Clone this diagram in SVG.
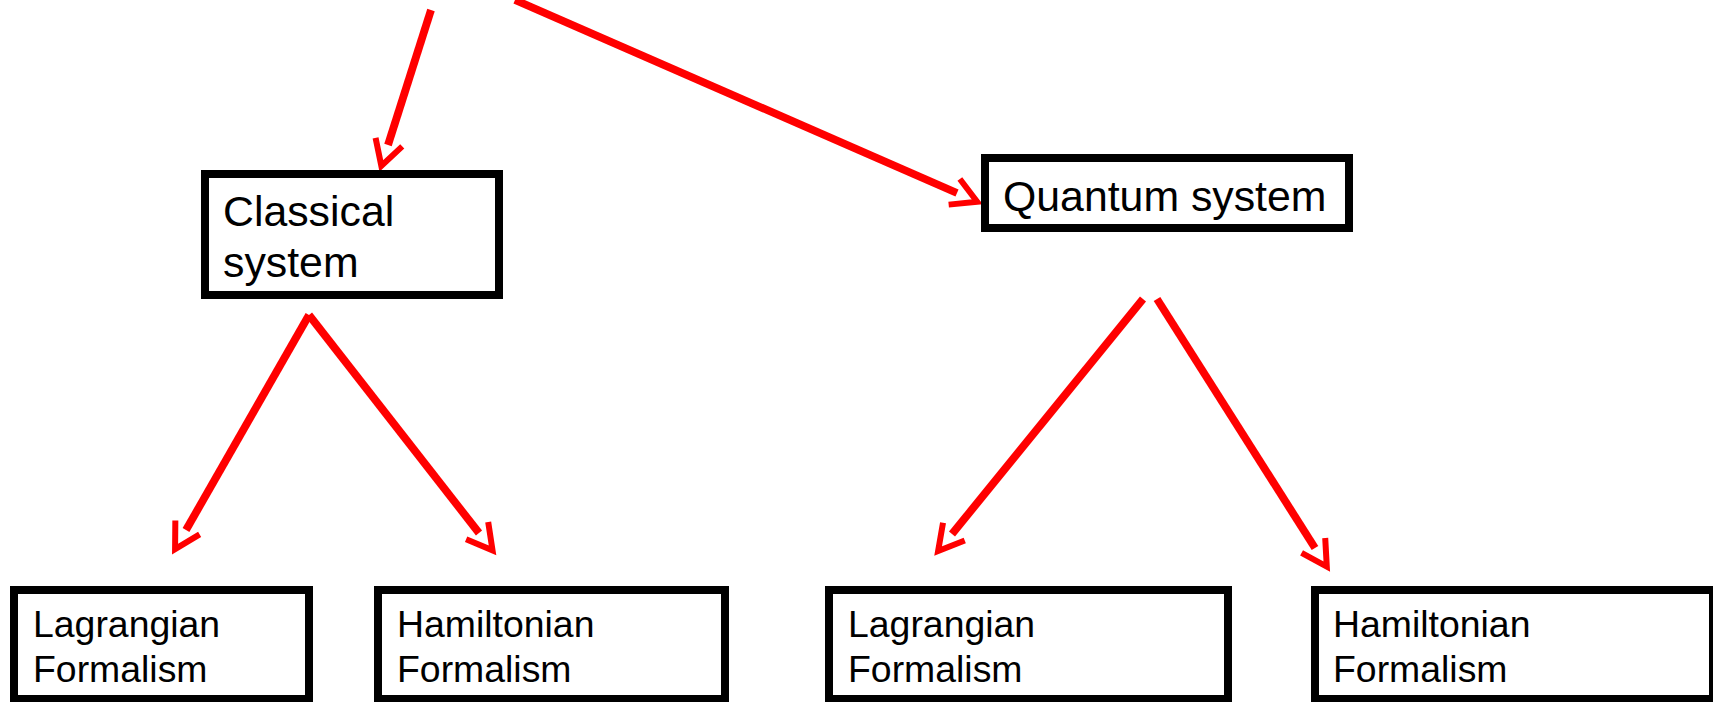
<svg xmlns="http://www.w3.org/2000/svg" width="1713" height="702" viewBox="0 0 1713 702">
  <style>
    .box { fill: #ffffff; stroke: #000000; stroke-width: 8; }
    .big { font-family: "Liberation Sans", Arial, sans-serif; font-size: 42.8px; fill: #000000; }
    .small { font-family: "Liberation Sans", Arial, sans-serif; font-size: 37.4px; fill: #000000; }
    .edge { stroke: #ff0000; stroke-width: 7.8; fill: none; stroke-linecap: butt; marker-end: url(#arrow); }
  </style>
  <defs>
    <marker id="arrow" markerUnits="userSpaceOnUse" orient="auto" refX="0" refY="0" markerWidth="60" markerHeight="60" overflow="visible">
      <path d="M -3,-14 L 22,0 L -3,14" fill="none" stroke="#ff0000" stroke-width="6" stroke-linejoin="miter" stroke-miterlimit="10"/>
    </marker>
  </defs>
  <rect width="1713" height="702" fill="#ffffff"/>

  <g id="connectors">
    <line class="edge" x1="431" y1="10" x2="388" y2="145"/>
    <line class="edge" x1="515" y1="0" x2="957" y2="193"/>
    <line class="edge" x1="309" y1="315" x2="186" y2="530"/>
    <line class="edge" x1="309" y1="315" x2="479" y2="533"/>
    <line class="edge" x1="1143" y1="299" x2="952" y2="534"/>
    <line class="edge" x1="1157" y1="299" x2="1315" y2="548"/>
  </g>

  <g id="classical">
    <rect class="box" x="205" y="174" width="294" height="121"/>
    <text class="big" x="223" y="226">Classical</text>
    <text class="big" x="223" y="277">system</text>
  </g>

  <g id="quantum">
    <rect class="box" x="985" y="158" width="364" height="70"/>
    <text class="big" x="1003" y="211">Quantum system</text>
  </g>

  <g id="classical-lagrangian">
    <rect class="box" x="14" y="590" width="295" height="109"/>
    <text class="small" x="33" y="637">Lagrangian</text>
    <text class="small" x="33" y="682">Formalism</text>
  </g>

  <g id="classical-hamiltonian">
    <rect class="box" x="378" y="590" width="347" height="109"/>
    <text class="small" x="397" y="637">Hamiltonian</text>
    <text class="small" x="397" y="682">Formalism</text>
  </g>

  <g id="quantum-lagrangian">
    <rect class="box" x="829" y="590" width="399" height="109"/>
    <text class="small" x="848" y="637">Lagrangian</text>
    <text class="small" x="848" y="682">Formalism</text>
  </g>

  <g id="quantum-hamiltonian">
    <rect class="box" x="1315" y="590" width="398" height="109"/>
    <text class="small" x="1333" y="637">Hamiltonian</text>
    <text class="small" x="1333" y="682">Formalism</text>
  </g>
</svg>
